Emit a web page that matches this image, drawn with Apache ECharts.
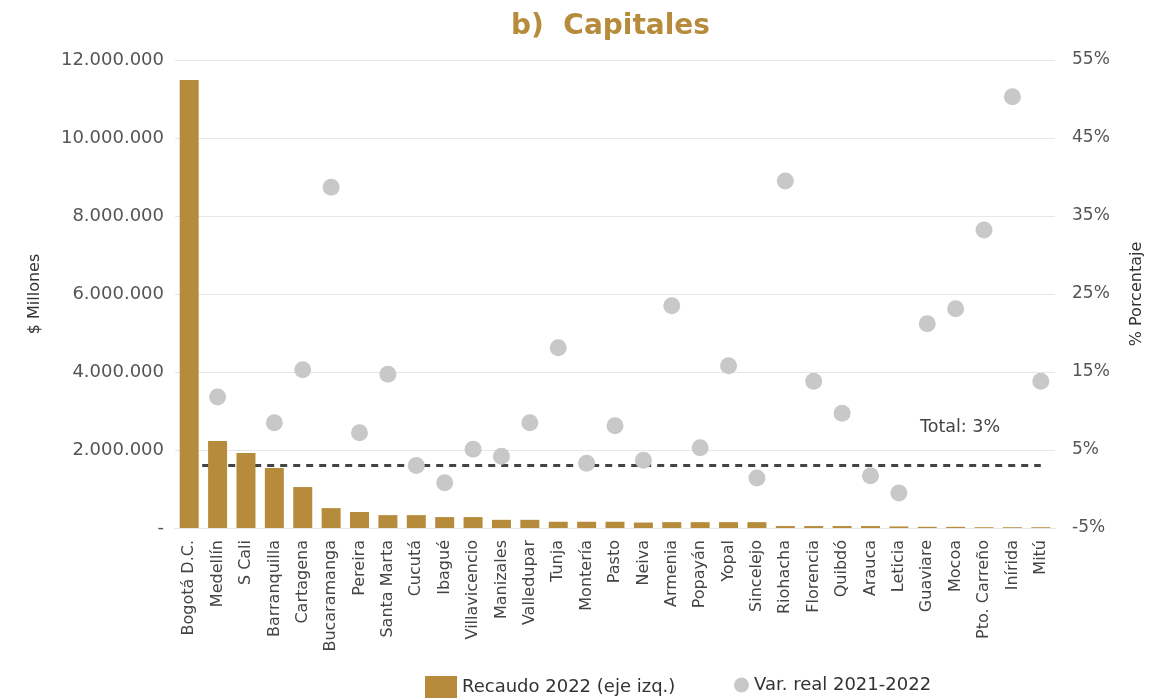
<!DOCTYPE html>
<html><head><meta charset="utf-8">
<script src="https://cdn.jsdelivr.net/npm/echarts@6/dist/echarts.min.js"></script>
<style>html,body{margin:0;padding:0;background:#fff}#c{width:1165px;height:699px}</style>
</head><body><div id="c"></div>
<script>
const categories = ["Bogotá D.C.","Medellín","S Cali","Barranquilla","Cartagena","Bucaramanga","Pereira","Santa Marta","Cucutá","Ibagué","Villavicencio","Manizales","Valledupar","Tunja","Montería","Pasto","Neiva","Armenia","Popayán","Yopal","Sincelejo","Riohacha","Florencia","Quibdó","Arauca","Leticia","Guaviare","Mocoa","Pto. Carreño","Inírida","Mitú"];
const recaudo = [11490000,2230000,1920000,1540000,1050000,510000,410000,330000,330000,280000,280000,210000,210000,160000,160000,160000,140000,150000,150000,150000,150000,50000,50000,50000,50000,40000,30000,30000,20000,20000,20000];
const variacion = [1.5,11.8,null,8.5,15.3,38.7,7.2,14.7,3.0,0.8,5.1,4.2,8.5,18.1,3.3,8.1,3.7,23.5,5.3,15.8,1.4,39.5,13.8,9.7,1.7,-0.5,21.2,23.1,33.2,50.3,13.8];
const totalVar = 3;
const leftTicks = [0,2000000,4000000,6000000,8000000,10000000,12000000];
const rightTicks = [-5,5,15,25,35,45,55];
</script>
<script>
const FONT = "DejaVu Sans";
const gold = "#B68C3C";
const chart = echarts.init(document.getElementById('c'));
function fmt(v){ if(v===0) return '-'; return String(v).replace(/\B(?=(\d{3})+(?!\d))/g,'.'); }
chart.setOption({
  animation:false,
  textStyle:{fontFamily:FONT},
  title:{text:'b)  Capitales',left:506,top:8,textStyle:{color:gold,fontSize:28,fontWeight:'bold',fontFamily:FONT}},
  grid:{left:175,right:110,top:60,bottom:171},
  legend:[
    {bottom:-4,left:420,itemWidth:32,itemHeight:22,itemGap:6,textStyle:{fontSize:18,color:'#333',fontFamily:FONT},
     data:[{name:'Recaudo 2022 (eje izq.)',icon:'rect'}]},
    {bottom:0,left:729,itemWidth:15,itemHeight:15,itemGap:6,textStyle:{fontSize:18,color:'#333',fontFamily:FONT},
     data:[{name:'Var. real 2021-2022',icon:'circle'}]}
  ],
  xAxis:{type:'category',data:categories,axisTick:{show:false},axisLine:{show:true,lineStyle:{color:'#e6e6e6'}},
    axisLabel:{rotate:90,interval:0,fontSize:16,color:'#444',margin:12}},
  yAxis:[
    {type:'value',min:leftTicks[0],max:leftTicks[leftTicks.length-1],interval:2000000,name:'$ Millones',nameLocation:'middle',nameGap:132,nameRotate:90,
     nameTextStyle:{fontSize:16,color:'#333'},axisLabel:{formatter:fmt,fontSize:18,color:'#555',margin:11},
     splitLine:{lineStyle:{color:'#e6e6e6'}},axisLine:{show:false},axisTick:{show:false}},
    {type:'value',min:rightTicks[0],max:rightTicks[rightTicks.length-1],interval:10,position:'right',name:'% Porcentaje',nameLocation:'middle',nameGap:74,nameRotate:90,
     nameTextStyle:{fontSize:16,color:'#333'},axisLabel:{formatter:'{value}%',fontSize:17,color:'#555',margin:17},
     splitLine:{show:false},axisLine:{show:false},axisTick:{show:false}}
  ],
  series:[
    {name:'Recaudo 2022 (eje izq.)',type:'bar',data:recaudo,barWidth:19,itemStyle:{color:gold},z:5},
    {name:'Var. real 2021-2022',type:'scatter',yAxisIndex:1,data:variacion,symbolSize:17,itemStyle:{color:'#c8c8c8',opacity:1},z:3,
     markLine:{silent:true,symbol:'none',z:2,lineStyle:{type:[7,6],color:'#444',width:3},
       label:{show:false},
       data:[[{coord:[0,totalVar]},{coord:[categories.length-1,totalVar]}]]}}
  ],
  graphic:[{type:'text',left:920,top:418,style:{text:'Total: '+totalVar+'%',fontSize:17.5,fill:'#444',fontFamily:FONT}}]
});
</script>
</body></html>
